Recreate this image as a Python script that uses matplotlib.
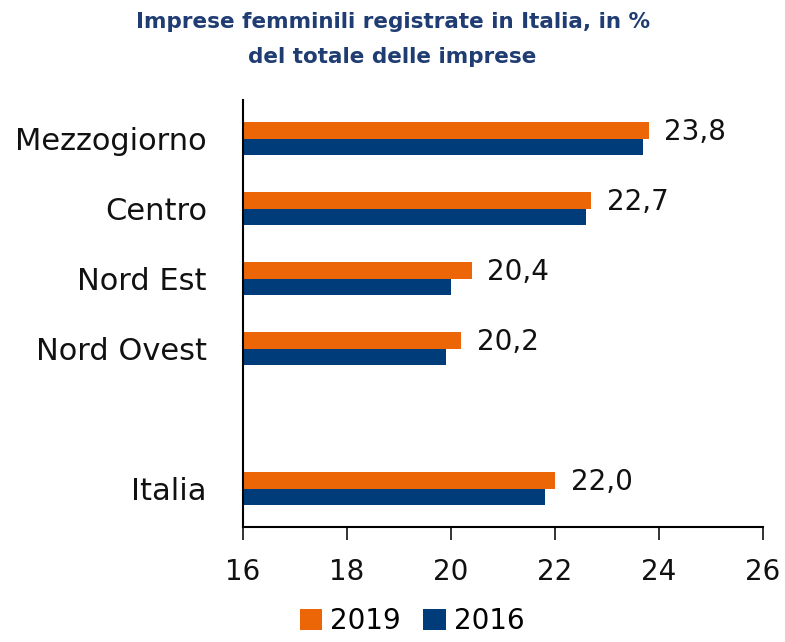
import numpy as np
import matplotlib.pyplot as plt

# Dati: imprese femminili registrate, % del totale
categorie = ['Mezzogiorno', 'Centro', 'Nord Est', 'Nord Ovest', 'Italia']
posizioni = [0, 1, 2, 3, 5]  # spazio vuoto prima di Italia
valori_2019 = [23.8, 22.7, 20.4, 20.2, 22.0]
valori_2016 = [23.7, 22.6, 20.0, 19.9, 21.8]
etichette_2019 = ['23,8', '22,7', '20,4', '20,2', '22,0']

arancio = '#EC6608'
blu = '#003B7A'

plt.rcParams['font.family'] = ['DejaVu Sans']

fig = plt.figure(figsize=(7.85, 6.42), dpi=100)
ax = fig.add_axes([243 / 785, 1 - 527 / 642, 520 / 785, 427 / 642])

pos = np.array(posizioni, dtype=float)
h = 0.24
ax.barh(pos - h / 2, np.array(valori_2019) - 16, left=16, height=h, color=arancio, label='2019')
ax.barh(pos + h / 2, np.array(valori_2016) - 16, left=16, height=h, color=blu, label='2016')

for p, v, t in zip(pos, valori_2019, etichette_2019):
    ax.text(v + 0.3, p - h / 2 + 0.03, t, va='center', ha='left', fontsize=20, color='#111111')

ax.set_xlim(16, 26)
ax.set_ylim(5.55, -0.55)
ax.set_xticks([16, 18, 20, 22, 24, 26])
ax.set_yticks(pos)
ax.set_yticklabels(categorie)
ax.tick_params(axis='y', length=0, pad=26, labelsize=22, colors='#111111')
ax.tick_params(axis='x', length=9, width=1.2, direction='out', pad=13, labelsize=20, colors='#111111')

for s in ['top', 'right']:
    ax.spines[s].set_visible(False)
ax.spines['left'].set_linewidth(1.5)
ax.spines['bottom'].set_linewidth(1.5)

fig.text(0.5, 0.982, 'Imprese femminili registrate in Italia, in %\ndel totale delle imprese',
         ha='center', va='top', fontsize=15.5, fontweight='bold', color='#1F3C73', linespacing=1.95)

fig.legend(loc='lower center', bbox_to_anchor=(0.525, -0.028), ncol=2, frameon=False,
           fontsize=20, handlelength=0.8, handleheight=0.8, handletextpad=0.3, columnspacing=0.8)

fig.savefig('out.png', dpi=100)
